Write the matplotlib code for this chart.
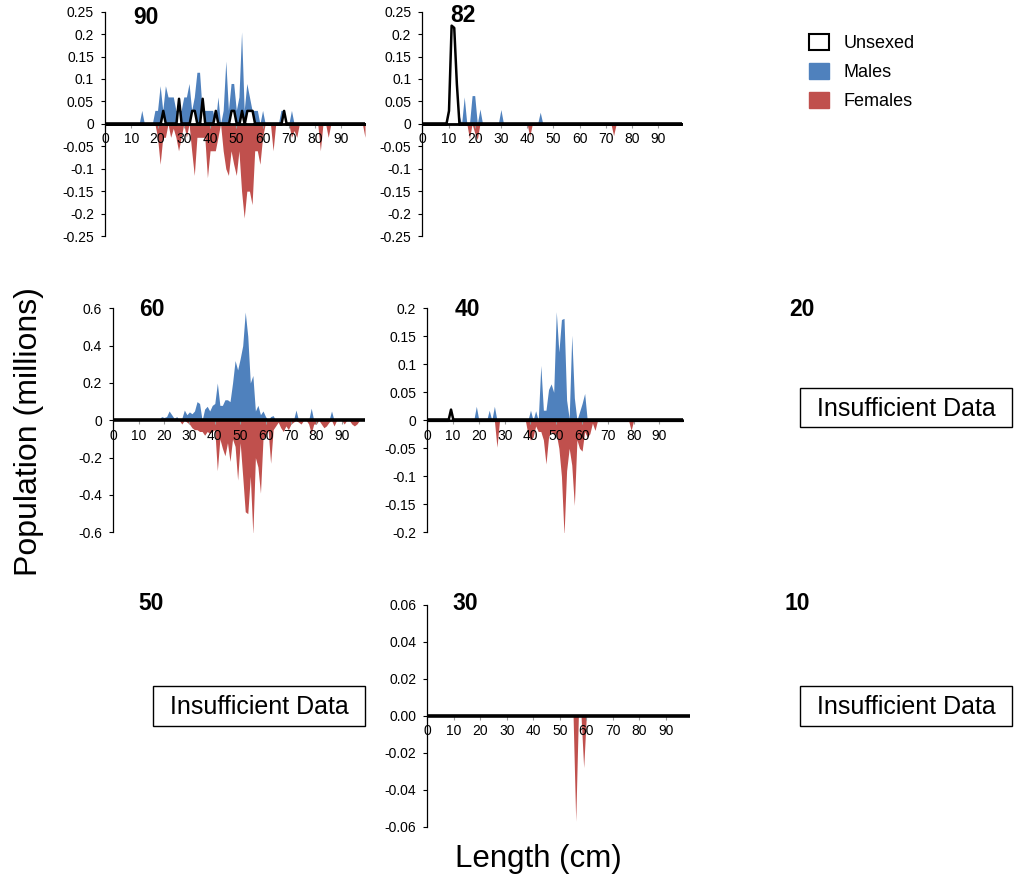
import numpy as np
import matplotlib
matplotlib.use('Agg')
import matplotlib.pyplot as plt
from matplotlib.patches import Patch, Rectangle

plt.rcParams['font.family'] = ['Liberation Sans', 'DejaVu Sans']

# length classes (cm)
lengths = np.arange(100)

# ---- panel 90 ----
m90_len = [14, 19, 20, 21, 22, 23, 24, 25, 26, 27, 28, 29, 30, 31, 32, 33, 34, 35, 36, 37,
           38, 39, 40, 41, 43, 45, 46, 47, 48, 49, 50, 51, 52, 53, 54, 55, 56, 57, 58, 60,
           67, 68, 71]
m90_val = [0.03, 0.03, 0.03, 0.085, 0.03, 0.085, 0.06, 0.06, 0.06, 0.03, 0.03, 0.03, 0.06, 0.06,
           0.09, 0.03, 0.06, 0.115, 0.115, 0.03, 0.03, 0.03, 0.03, 0.03, 0.06, 0.03, 0.14, 0.03,
           0.09, 0.09, 0.03, 0.06, 0.205, 0.03, 0.09, 0.06, 0.03, 0.03, 0.03, 0.03, 0.03, 0.03, 0.03]
f90_len = [20, 21, 22, 23, 25, 26, 27, 28, 29, 31, 33, 34, 35, 36, 37, 38, 39, 40, 41, 42,
           43, 45, 46, 47, 48, 49, 50, 51, 52, 53, 54, 55, 56, 57, 58, 59, 60, 64, 71, 72,
           73, 82, 85, 99]
f90_val = [-0.03, -0.09, -0.03, -0.03, -0.03, -0.01, -0.03, -0.06, -0.03, -0.03, -0.06, -0.115,
           -0.03, -0.03, -0.03, -0.03, -0.12, -0.06, -0.06, -0.06, -0.03, -0.06, -0.1, -0.115,
           -0.06, -0.09, -0.115, -0.06, -0.15, -0.21, -0.15, -0.15, -0.18, -0.06, -0.06, -0.09,
           -0.03, -0.06, -0.03, -0.015, -0.03, -0.06, -0.03, -0.03]
u90_len = [22, 28, 33, 34, 37, 42, 48, 49, 52, 54, 55, 56, 68]
u90_val = [0.03, 0.057, 0.03, 0.03, 0.057, 0.03, 0.03, 0.03, 0.03, 0.03, 0.03, 0.03, 0.03]

# ---- panel 82 ----
m82_len = [14, 16, 19, 20, 22, 30, 45]
m82_val = [0.02, 0.06, 0.063, 0.063, 0.033, 0.032, 0.026]
f82_len = [18, 20, 21, 41, 73]
f82_val = [-0.033, -0.02, -0.035, -0.028, -0.026]
u82_len = [10, 11, 12, 13]
u82_val = [0.03, 0.22, 0.215, 0.09]

# ---- panel 60 ----
m60_len = [19, 20, 21, 22, 23, 24, 25, 27, 28, 29, 30, 31, 32, 33, 34, 36, 37, 38, 39, 40,
           41, 42, 43, 44, 45, 46, 47, 48, 49, 50, 51, 52, 53, 54, 55, 56, 57, 58, 59, 60,
           62, 63, 72, 78, 86]
m60_val = [0.02, 0.015, 0.02, 0.05, 0.03, 0.01, 0.02, 0.01, 0.055, 0.03, 0.045, 0.035, 0.05, 0.1,
           0.09, 0.06, 0.075, 0.05, 0.08, 0.09, 0.2, 0.08, 0.08, 0.11, 0.11, 0.1, 0.2, 0.32, 0.27,
           0.33, 0.4, 0.58, 0.45, 0.2, 0.24, 0.05, 0.08, 0.03, 0.05, 0.02, 0.02, 0.025, 0.055,
           0.065, 0.05]
f60_len = [27, 29, 30, 31, 32, 33, 34, 35, 36, 37, 38, 39, 40, 41, 42, 43, 44, 45, 46, 47,
           48, 49, 50, 51, 52, 53, 54, 55, 56, 57, 58, 59, 60, 61, 62, 63, 64, 65, 66, 67,
           68, 69, 70, 71, 73, 74, 77, 78, 79, 80, 82, 83, 84, 85, 87, 91, 94, 95, 96]
f60_val = [-0.02, -0.01, -0.02, -0.04, -0.05, -0.05, -0.06, -0.06, -0.08, -0.06, -0.07, -0.06,
           -0.05, -0.27, -0.1, -0.15, -0.19, -0.12, -0.22, -0.1, -0.14, -0.32, -0.12, -0.3, -0.49,
           -0.5, -0.3, -0.61, -0.2, -0.25, -0.39, -0.1, -0.08, -0.05, -0.23, -0.05, -0.03, -0.01,
           -0.04, -0.06, -0.03, -0.05, -0.02, -0.01, -0.01, -0.02, -0.02, -0.07, -0.02, -0.02,
           -0.02, -0.04, -0.03, -0.01, -0.03, -0.02, -0.02, -0.03, -0.02]

# ---- panel 40 ----
m40_len = [19, 24, 26, 40, 42, 44, 45, 46, 47, 48, 49, 50, 51, 52, 53, 54, 55, 56, 57, 59, 60, 61]
m40_val = [0.025, 0.018, 0.025, 0.018, 0.017, 0.098, 0.018, 0.018, 0.055, 0.065, 0.05, 0.194,
           0.122, 0.18, 0.182, 0.036, 0.003, 0.152, 0.04, 0.015, 0.03, 0.048]
f40_len = [27, 39, 40, 41, 42, 43, 44, 45, 46, 47, 48, 49, 50, 51, 52, 53, 54, 55, 56, 57,
           58, 59, 60, 61, 62, 63, 64, 65, 79]
f40_val = [-0.048, -0.025, -0.035, -0.03, -0.01, -0.02, -0.02, -0.035, -0.078, -0.03, -0.02,
           -0.025, -0.024, -0.05, -0.1, -0.205, -0.09, -0.05, -0.08, -0.152, -0.035, -0.05,
           -0.055, -0.02, -0.03, -0.024, -0.005, -0.018, -0.018]
u40_len = [9]
u40_val = [0.02]

# ---- panel 30 ----
f30_len = [56, 59]
f30_val = [-0.057, -0.028]

# y tick labels
yt_025 = [0.25, 0.2, 0.15, 0.1, 0.05, 0, -0.05, -0.1, -0.15, -0.2, -0.25]
yl_025 = ['0.25', '0.2', '0.15', '0.1', '0.05', '0', '-0.05', '-0.1', '-0.15', '-0.2', '-0.25']
yt_06 = [0.6, 0.4, 0.2, 0, -0.2, -0.4, -0.6]
yl_06 = ['0.6', '0.4', '0.2', '0', '-0.2', '-0.4', '-0.6']
yt_02 = [0.2, 0.15, 0.1, 0.05, 0, -0.05, -0.1, -0.15, -0.2]
yl_02 = ['0.2', '0.15', '0.1', '0.05', '0', '-0.05', '-0.1', '-0.15', '-0.2']
yt_006 = [0.06, 0.04, 0.02, 0, -0.02, -0.04, -0.06]
yl_006 = ['0.06', '0.04', '0.02', '0.00', '-0.02', '-0.04', '-0.06']
xt = [0, 10, 20, 30, 40, 50, 60, 70, 80, 90]

BLUE = '#4F81BD'
RED = '#C0504D'
W, H = 1015, 882


def series(lens, vals):
    y = np.zeros(len(lengths))
    y[lens] = vals
    return y


fig = plt.figure(figsize=(W / 100, H / 100), dpi=100)


def panel(x0, y0, x1, y1, male, female, unsexed, yt, yl):
    ax = fig.add_axes([x0 / W, 1 - y1 / H, (x1 - x0) / W, (y1 - y0) / H])
    if male is not None:
        ax.fill_between(lengths, 0, male, color=BLUE, lw=0, zorder=1)
    if female is not None:
        ax.fill_between(lengths, 0, female, color=RED, lw=0, zorder=1)
    if unsexed is not None:
        ax.fill_between(lengths, 0, unsexed, facecolor='white', edgecolor='black',
                        lw=1.8, zorder=3)
    ax.set_xlim(0, 99)
    ax.set_ylim(yt[-1], yt[0])
    ax.set_yticks(yt)
    ax.set_yticklabels(yl)
    ax.set_xticks(xt)
    ax.set_xticklabels([str(v) for v in xt])
    ax.spines['top'].set_visible(False)
    ax.spines['right'].set_visible(False)
    ax.spines['left'].set_linewidth(0.9)
    ax.spines['bottom'].set_position(('data', 0))
    ax.spines['bottom'].set_linewidth(2.6)
    ax.spines['bottom'].set_capstyle('butt')
    ax.tick_params(axis='y', direction='out', length=3, width=0.8, pad=5, labelsize=10)
    ax.tick_params(axis='x', direction='out', length=3, width=0.8, color='#999999',
                   pad=3, labelsize=10)
    ax.patch.set_alpha(0)
    return ax


panel(105, 11.7, 365, 236, series(m90_len, m90_val), series(f90_len, f90_val),
      series(u90_len, u90_val), yt_025, yl_025)
panel(422.3, 11.7, 681.7, 236, series(m82_len, m82_val), series(f82_len, f82_val),
      series(u82_len, u82_val), yt_025, yl_025)
panel(113.3, 308.3, 364.5, 532.3, series(m60_len, m60_val), series(f60_len, f60_val),
      None, yt_06, yl_06)
panel(427.3, 308.3, 682.7, 532.3, series(m40_len, m40_val), series(f40_len, f40_val),
      series(u40_len, u40_val), yt_02, yl_02)
panel(427.3, 605, 689.7, 826.7, None, series(f30_len, f30_val), None, yt_006, yl_006)

# panel titles
titles = ['90', '82', '60', '40', '20', '50', '30', '10']
title_xy = [(133, 17), (450, 16), (139, 310), (455, 310), (789, 310),
            (138, 604), (452, 604), (785, 604)]
for t, (x, y) in zip(titles, title_xy):
    fig.text(x / W, 1 - y / H, t, fontsize=16.5, fontweight='bold', ha='left', va='center')

# "Insufficient Data" boxes
boxes = [(800, 388, 1012, 427), (153, 686, 365, 726), (800, 686, 1012, 726)]
for (x0, y0, x1, y1) in boxes:
    fig.patches.append(Rectangle((x0 / W, 1 - y1 / H), (x1 - x0) / W, (y1 - y0) / H,
                                 transform=fig.transFigure, facecolor='white',
                                 edgecolor='black', lw=1.0))
    fig.text((x0 + x1) / 2 / W, 1 - ((y0 + y1) / 2 + 1.5) / H, 'Insufficient Data',
             fontsize=18, ha='center', va='center')

# legend
handles = [Patch(facecolor='white', edgecolor='black', lw=1.5),
           Patch(facecolor=BLUE, edgecolor=BLUE),
           Patch(facecolor=RED, edgecolor=RED)]
fig.legend(handles, ['Unsexed', 'Males', 'Females'], loc='upper left',
           bbox_to_anchor=(809 / W, 1 - 34 / H), frameon=False, fontsize=13,
           handlelength=1.1, handleheight=0.95, handletextpad=0.8,
           labelspacing=0.62, borderaxespad=0, borderpad=0)

fig.text(29 / W, 1 - 432 / H, 'Population (millions)', rotation=90, fontsize=23,
         ha='center', va='center')
fig.text(538 / W, 1 - 859 / H, 'Length (cm)', fontsize=22.5, ha='center', va='center')

fig.savefig('out.png', dpi=100)
